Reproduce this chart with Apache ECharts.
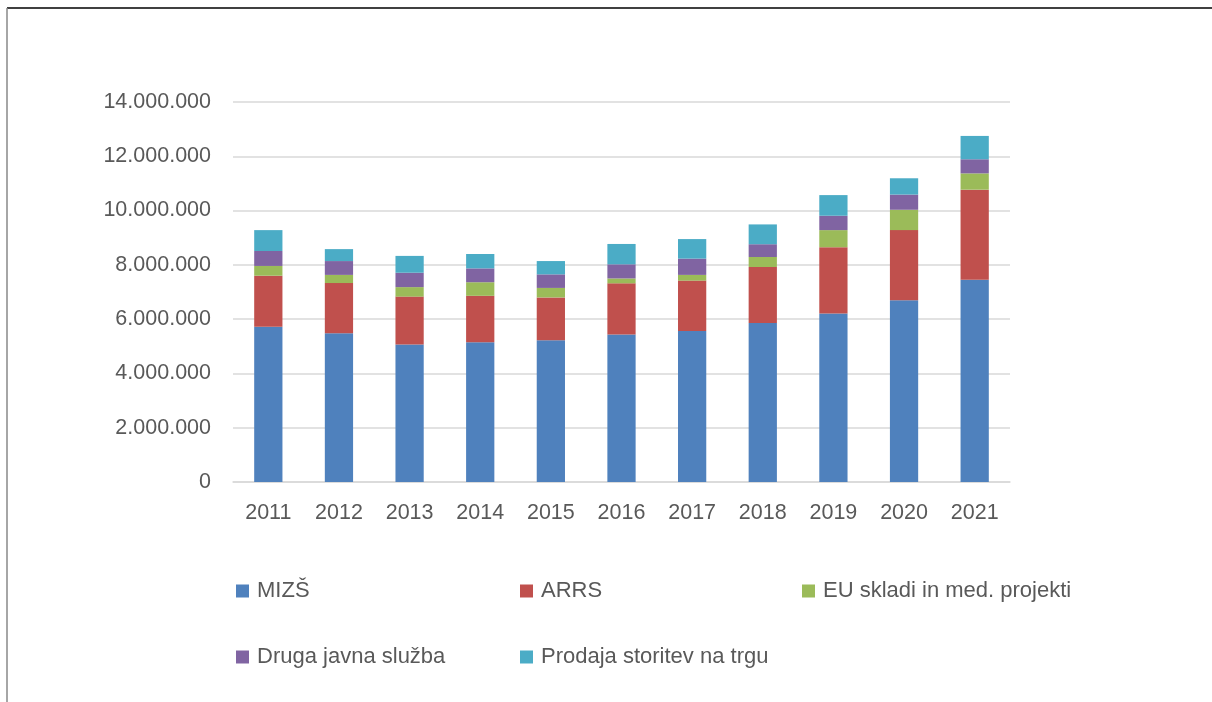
<!DOCTYPE html>
<html>
<head>
<meta charset="utf-8">
<script src="https://cdn.jsdelivr.net/npm/echarts@6/dist/echarts.min.js"></script>
<style>
html,body{margin:0;padding:0;background:#fff;}
#c{width:1212px;height:702px;}
</style>
</head>
<body>
<div id="c"></div>
<script>
const years = ['2011','2012','2013','2014','2015','2016','2017','2018','2019','2020','2021'];
const mizs    = [5720000,5480000,5070000,5150000,5220000,5430000,5560000,5860000,6210000,6700000,7450000];
const arrs    = [1880000,1850000,1760000,1710000,1580000,1890000,1860000,2060000,2440000,2580000,3320000];
const euSkladi= [360000,300000,350000,500000,350000,180000,210000,370000,630000,750000,600000];
const druga   = [550000,510000,530000,510000,500000,520000,600000,470000,530000,560000,520000];
const prodaja = [770000,440000,620000,530000,490000,750000,720000,730000,760000,600000,860000];
const seriesNames = ['MIZŠ','ARRS','EU skladi in med. projekti','Druga javna služba','Prodaja storitev na trgu'];
const colors = ['#4F81BD','#C0504D','#9BBB59','#8064A2','#4BACC6'];
const seriesData = [mizs, arrs, euSkladi, druga, prodaja];

const font = 'Liberation Sans';
const txt = '#595959';
function fmt(v){ return String(v).replace(/\B(?=(\d{3})+(?!\d))/g,'.'); }

const legendPos = [
  {left:236, top:580},
  {left:520, top:580},
  {left:802, top:580},
  {left:236, top:646},
  {left:520, top:646}
];

const chart = echarts.init(document.getElementById('c'), null, {renderer:'canvas'});
chart.setOption({
  animation:false,
  color: colors,
  grid:{left:233, right:202, top:102, bottom:220, containLabel:false},
  legend: seriesNames.map((n,i)=>({
    data:[n], left:legendPos[i].left, top:legendPos[i].top, padding:0,
    icon:'rect', itemWidth:13, itemHeight:13, itemGap:0,
    textStyle:{fontFamily:font, fontSize:22, color:txt, padding:[0,0,0,3]},
    selectedMode:false
  })),
  xAxis:{
    type:'category', data:years,
    axisLine:{lineStyle:{color:'#d9d9d9', width:1.5}},
    axisTick:{show:false},
    axisLabel:{fontFamily:font, fontSize:21.5, color:txt, margin:20}
  },
  yAxis:{
    type:'value', min:0, max:14000000, interval:2000000,
    axisLine:{show:false}, axisTick:{show:false},
    splitLine:{lineStyle:{color:'#d9d9d9', width:1.5}},
    axisLabel:{fontFamily:font, fontSize:21.5, color:txt, margin:22, formatter:fmt}
  },
  series: seriesNames.map((n,i)=>({
    name:n, type:'bar', stack:'total', data:seriesData[i], barWidth:'40%',
    itemStyle:{color:colors[i]}
  })),
  graphic:[
    {type:'line', shape:{x1:7, y1:8, x2:1212, y2:8}, style:{stroke:'#000', lineWidth:1.5}, silent:true},
    {type:'line', shape:{x1:7, y1:8, x2:7, y2:702}, style:{stroke:'#888', lineWidth:1.5}, silent:true}
  ]
});
</script>
</body>
</html>
